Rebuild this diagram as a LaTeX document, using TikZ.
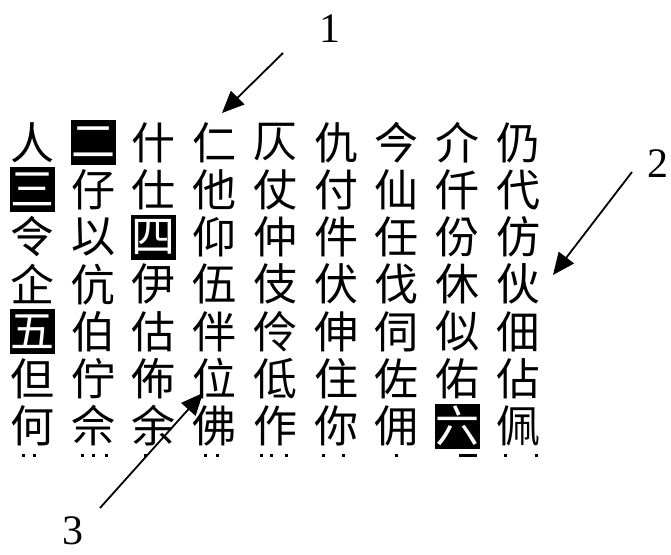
\documentclass[tikz,border=0pt]{standalone}
\usepackage{fontspec}
\setmainfont{Liberation Serif}
\newfontfamily\cjk{Noto Sans CJK TC}
\usetikzlibrary{arrows.meta}
\tikzset{
  gl/.style={inner sep=0pt, minimum size=45pt, font=\cjk\fontsize{44}{44}\selectfont},
  hl/.style={gl, fill=black, text=white},
  lbl/.style={inner sep=0pt, font=\fontsize{42}{42}\selectfont},
  arr/.style={line width=1.8pt, -{Triangle[length=22pt,width=19pt]}},
  dot/.style={fill=black}
}
\begin{document}
\begin{tikzpicture}[x=1pt,y=-1pt]
\useasboundingbox (0,0) rectangle (671,554);
\foreach \rowlist [count=\r] in {
 {gl/人,hl/二,gl/什,gl/仁,gl/仄,gl/仇,gl/今,gl/介,gl/仍},
 {hl/三,gl/仔,gl/仕,gl/他,gl/仗,gl/付,gl/仙,gl/仟,gl/代},
 {gl/令,gl/以,hl/四,gl/仰,gl/仲,gl/件,gl/任,gl/份,gl/仿},
 {gl/企,gl/伉,gl/伊,gl/伍,gl/伎,gl/伏,gl/伐,gl/休,gl/伙},
 {hl/五,gl/伯,gl/估,gl/伴,gl/伶,gl/伸,gl/伺,gl/似,gl/佃},
 {gl/但,gl/佇,gl/佈,gl/位,gl/低,gl/住,gl/佐,gl/佑,gl/佔},
 {gl/何,gl/佘,gl/余,gl/佛,gl/作,gl/你,gl/佣,hl/六,gl/佩}} {
  \foreach \s/\ch [count=\c] in \rowlist {
    \node[\s] (r\r c\c) at ({32.5+60.7*(\c-1)},{142.5+47.25*(\r-1)}) {\ch};
  }
}
% tops of the next, cut-off row
\foreach \x in {23,34,82,93,106,145,205,217,261,271,286,323,343,396,505,536}
  \fill[dot] (\x-1.5,454) rectangle (\x+1.5,457);
\fill[dot] (459,454) rectangle (477,457);
% labels and arrows
\node[lbl] (l1) at (330,29) {1};
\node[lbl] (l2) at (658,164) {2};
\node[lbl] (l3) at (73,531) {3};
\coordinate (a1s) at (283,53);
\coordinate (a1t) at (222,113);
\coordinate (a2s) at (632,172);
\coordinate (a2t) at (553,275);
\coordinate (a3s) at (100,508);
\coordinate (a3t) at (203,393);
\draw[arr] (a1s) -- (a1t);
\draw[arr] (a2s) -- (a2t);
\draw[arr] (a3s) -- (a3t);
\end{tikzpicture}
\end{document}
